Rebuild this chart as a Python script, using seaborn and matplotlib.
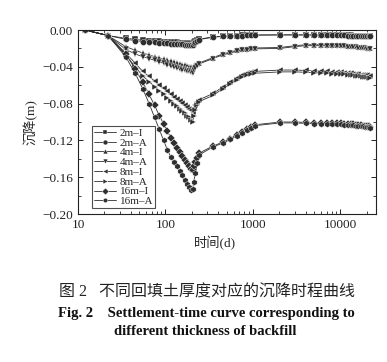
import pandas as pd
import seaborn as sns
import matplotlib.pyplot as plt
from matplotlib.ticker import MultipleLocator, FuncFormatter, LogLocator, NullFormatter

# time (d)
t = [12, 22, 35, 45, 55, 65, 75, 85, 95, 105, 115, 125, 135, 145, 155, 165, 175, 185, 195, 205,
     210, 220, 230, 240,
     350, 450, 550, 650, 750, 850, 950, 1050,
     2050, 3050, 4050, 5050, 6050, 7050, 8050, 9050, 10050, 11050, 12050, 13050, 14050,
     15050, 16050, 17050, 18050, 19050, 20050, 21050, 22050]

# settlement (m)
s_2m_I = [0, -0.006, -0.009, -0.010, -0.011, -0.0115, -0.012, -0.0123, -0.0126, -0.0129, -0.0131, -0.0133, -0.0135, -0.0137, -0.0139, -0.014, -0.0141, -0.0142, -0.0143, -0.0144,
          -0.013, -0.012, -0.011, -0.010,
          -0.0075, -0.0068, -0.0063, -0.006, -0.0058, -0.0056, -0.0055, -0.0054,
          -0.0052, -0.0052, -0.0053, -0.0053, -0.0054, -0.0054, -0.0055, -0.0055, -0.0056, -0.0057, -0.0058, -0.0059, -0.0060,
          -0.0061, -0.0062, -0.0063, -0.0064, -0.0065, -0.0066, -0.0067, -0.0068]
s_2m_A = [0, -0.006, -0.010, -0.0115, -0.0125, -0.013, -0.0135, -0.014, -0.0143, -0.0146, -0.0149, -0.0151, -0.0153, -0.0155, -0.0157, -0.0159, -0.016, -0.0161, -0.0162, -0.0163,
          -0.014, -0.0125, -0.0115, -0.0105,
          -0.0078, -0.007, -0.0065, -0.0062, -0.006, -0.0058, -0.0057, -0.0056,
          -0.0054, -0.0054, -0.0055, -0.0055, -0.0056, -0.0056, -0.0057, -0.0057, -0.0058, -0.0059, -0.006, -0.0061, -0.0062,
          -0.0063, -0.0064, -0.0065, -0.0066, -0.0067, -0.0068, -0.0069, -0.007]
s_4m_I = [0, -0.006, -0.018, -0.022, -0.025, -0.027, -0.029, -0.030, -0.032, -0.033, -0.034, -0.035, -0.036, -0.037, -0.038, -0.0385, -0.039, -0.040, -0.0405, -0.041,
          -0.039, -0.038, -0.037, -0.036,
          -0.030, -0.026, -0.024, -0.022, -0.021, -0.0205, -0.020, -0.0195,
          -0.019, -0.017, -0.016, -0.016, -0.016, -0.016, -0.0162, -0.0163, -0.0165, -0.0168, -0.017, -0.0173, -0.0176,
          -0.0179, -0.0182, -0.0185, -0.0188, -0.019, -0.0193, -0.0196, -0.0198]
s_4m_A = [0, -0.006, -0.021, -0.026, -0.029, -0.031, -0.033, -0.035, -0.036, -0.038, -0.039, -0.040, -0.041, -0.042, -0.043, -0.044, -0.0445, -0.045, -0.046, -0.047,
          -0.044, -0.041, -0.039, -0.037,
          -0.031, -0.027, -0.025, -0.023, -0.022, -0.0215, -0.021, -0.0205,
          -0.020, -0.018, -0.017, -0.017, -0.017, -0.017, -0.0172, -0.0173, -0.0175, -0.0178, -0.018, -0.0183, -0.0186,
          -0.0189, -0.0192, -0.0195, -0.0198, -0.020, -0.0203, -0.0206, -0.0208]
s_8m_I = [0, -0.006, -0.025, -0.036, -0.045, -0.0505, -0.0554, -0.0596, -0.0633, -0.0666, -0.0696, -0.0724, -0.075, -0.0773, -0.0796, -0.0816, -0.0836, -0.0854, -0.0873, -0.089,
          -0.085, -0.081, -0.078, -0.076,
          -0.069, -0.062, -0.057, -0.052, -0.049, -0.047, -0.046, -0.045,
          -0.0435, -0.0435, -0.044, -0.0443, -0.0447, -0.045, -0.0453, -0.0456, -0.046, -0.0463, -0.0467, -0.047, -0.0473,
          -0.0477, -0.048, -0.0484, -0.0488, -0.0491, -0.0494, -0.0497, -0.050]
s_8m_A = [0, -0.006, -0.027, -0.040, -0.050, -0.056, -0.0615, -0.066, -0.070, -0.0738, -0.077, -0.080, -0.083, -0.0855, -0.088, -0.090, -0.093, -0.095, -0.0975, -0.100,
          -0.094, -0.087, -0.081, -0.078,
          -0.071, -0.064, -0.059, -0.054, -0.051, -0.049, -0.048, -0.047,
          -0.0455, -0.0455, -0.046, -0.0463, -0.0467, -0.047, -0.0473, -0.0476, -0.048, -0.0483, -0.0487, -0.049, -0.0493,
          -0.0497, -0.050, -0.0504, -0.0508, -0.0511, -0.0514, -0.0517, -0.052]
s_16m_I = [0, -0.006, -0.026, -0.042, -0.057, -0.070, -0.082, -0.093, -0.102, -0.110, -0.117, -0.123, -0.128, -0.133, -0.137, -0.141, -0.145, -0.148, -0.151, -0.152,
           -0.148, -0.143, -0.139, -0.134,
           -0.126, -0.122, -0.118, -0.114, -0.111, -0.108, -0.105, -0.103,
           -0.100, -0.100, -0.1005, -0.101, -0.101, -0.101, -0.101, -0.1012, -0.1015, -0.1018, -0.102, -0.1023, -0.1026,
           -0.1029, -0.1032, -0.1035, -0.1038, -0.104, -0.1043, -0.1046, -0.105]
s_16m_A = [0, -0.006, -0.029, -0.047, -0.064, -0.080, -0.095, -0.108, -0.120, -0.130, -0.138, -0.143, -0.148, -0.153, -0.158, -0.163, -0.167, -0.171, -0.174, -0.173,
           -0.165, -0.155, -0.145, -0.136,
           -0.127, -0.123, -0.119, -0.115, -0.112, -0.109, -0.106, -0.104,
           -0.101, -0.101, -0.1015, -0.102, -0.102, -0.102, -0.102, -0.1022, -0.1025, -0.1028, -0.103, -0.1033, -0.1036,
           -0.1039, -0.1042, -0.1045, -0.1048, -0.105, -0.1053, -0.1056, -0.106]

names = ['2m–I', '2m–A', '4m–I', '4m–A', '8m–I', '8m–A', '16m–I', '16m–A']
series = [s_2m_I, s_2m_A, s_4m_I, s_4m_A, s_8m_I, s_8m_A, s_16m_I, s_16m_A]
marks = ['s', 'o', '^', 'v', '<', '>', 'D', 'h']

frames = []
for n, s in zip(names, series):
    frames.append(pd.DataFrame({'t': t, 's': s, 'curve': n}))
df = pd.concat(frames, ignore_index=True)

sns.set_style('ticks')
serif = ['Liberation Serif', 'Noto Sans CJK SC', 'DejaVu Sans']
plt.rcParams['font.family'] = serif
plt.rcParams['axes.unicode_minus'] = True


def ylab(v, p):
    if abs(v) < 1e-9:
        return '0.00'
    return ('%.2f' % v).replace('-', '−')


fig = plt.figure(figsize=(3.87, 3.62), dpi=100)
ax = fig.add_axes([0.2016, 0.4088, 0.770, 0.5083])

sns.lineplot(data=df, x='t', y='s', hue='curve', style='curve', hue_order=names, style_order=names,
             markers=marks, dashes=False, palette=['#2e2e2e'] * 8, markersize=4.4,
             markeredgewidth=0.3, linewidth=0.6, ax=ax, sort=False)

ax.set_xscale('log')
ax.set_xlim(10, 25500)
ax.set_ylim(-0.20, 0.0)
ax.yaxis.set_major_locator(MultipleLocator(0.04))
ax.yaxis.set_minor_locator(MultipleLocator(0.02))
ax.yaxis.set_major_formatter(FuncFormatter(ylab))
ax.xaxis.set_major_locator(LogLocator(base=10))
ax.xaxis.set_major_formatter(FuncFormatter(lambda v, p: '%d' % round(v)))
ax.xaxis.set_minor_locator(LogLocator(base=10, subs=range(2, 10)))
ax.xaxis.set_minor_formatter(NullFormatter())
ax.tick_params(which='both', direction='in', top=True, right=True, labelsize=9.5, colors='#222')
ax.tick_params(which='major', length=3.5, width=0.7)
ax.tick_params(which='minor', length=2, width=0.6)
for sp in ax.spines.values():
    sp.set_color('#222')
    sp.set_linewidth(0.8)

ax.set_xlabel('时间(d)', fontsize=9.5, labelpad=2, family=serif)
ax.xaxis.set_label_coords(0.46, -0.12)
ax.set_ylabel('沉降(m)', fontsize=9.5, labelpad=3, family=serif)

leg = ax.legend(loc='lower left', bbox_to_anchor=(0.047, 0.033), fontsize=8, frameon=True,
                fancybox=False, edgecolor='#222', labelspacing=0.0, borderpad=0.15,
                handlelength=2.0, handletextpad=0.35, borderaxespad=0, markerscale=0.8)
leg.get_frame().set_linewidth(0.8)

fig.text(0.535, 0.193, '图 2   不同回填土厚度对应的沉降时程曲线', ha='center', va='center',
         fontsize=11.5, family=['Liberation Serif', 'Noto Sans CJK SC'], color='#222')
fig.text(0.532, 0.135, 'Fig. 2    Settlement-time curve corresponding to', ha='center', va='center',
         fontsize=10.5, fontweight='bold', family='Liberation Serif', color='#111')
fig.text(0.531, 0.083, 'different thickness of backfill', ha='center', va='center',
         fontsize=10.5, fontweight='bold', family='Liberation Serif', color='#111')

fig.savefig('out.png', dpi=100)
